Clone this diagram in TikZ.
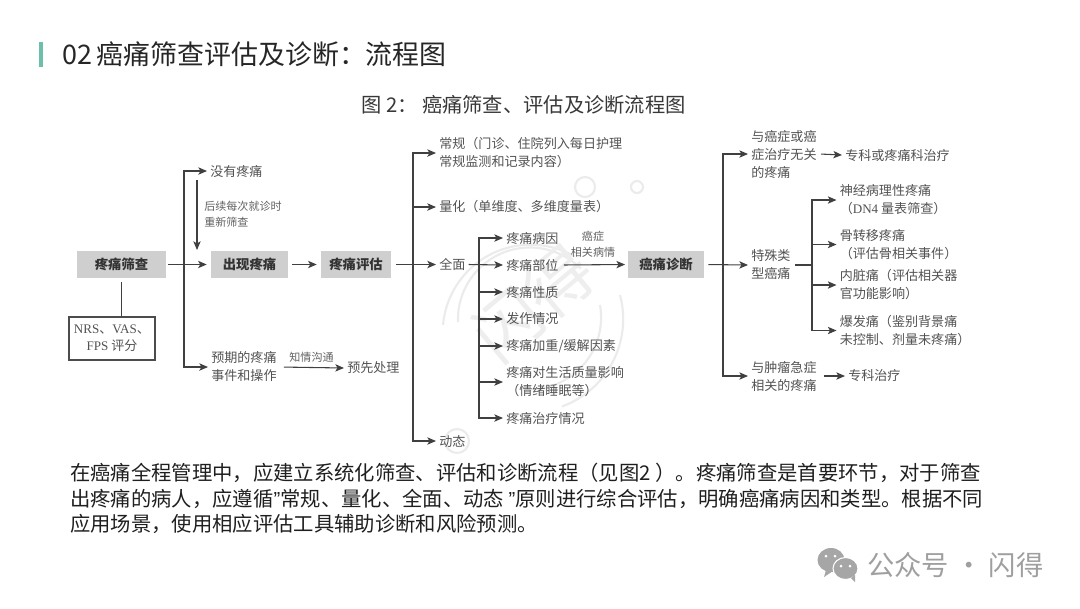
\documentclass[tikz,border=0pt]{standalone}
\usepackage{fontspec}
\setmainfont{Noto Sans CJK SC}
\newfontfamily\latinserif{Liberation Serif}
\newfontfamily\latinsans{Liberation Sans}
\definecolor{barteal}{HTML}{6CBFA8}
\usetikzlibrary{arrows.meta}

\begin{document}
\begin{tikzpicture}[
  x=0.75pt, y=-0.75pt,
  greybox/.style={rectangle, fill=gray!38, text=black!80, font=\fontsize{10pt}{13.5pt}\selectfont\bfseries, align=center, minimum height=20.25pt, inner sep=0pt},
  flowtext/.style={anchor=west, align=left, inner sep=2.25pt, text=black!68, font=\fontsize{9.8pt}{13.5pt}\selectfont},
  smalltext/.style={align=left, inner sep=0pt, text=black!62, font=\fontsize{8.3pt}{12pt}\selectfont},
  arrow/.style={-{Stealth[length=6.5pt, width=5.5pt, inset=1.6pt]}, line width=0.8pt, draw=black!75},
  plainline/.style={line width=0.8pt, draw=black!75},
  stampline/.style={line width=1.6pt, draw=gray!16},
]
\useasboundingbox (0,0) rectangle (1080,608);

% === STAMP BEHIND THE CHART ===
\draw[stampline] (443,325) arc[start angle=185, end angle=300, radius=88];
\draw[stampline] (458,322) arc[start angle=178, end angle=315, radius=72];
\draw[stampline] (620,295) arc[start angle=-15, end angle=70, radius=93];
\draw[stampline] (600,305) arc[start angle=-10, end angle=95, radius=72];
\draw[stampline] (585,187) circle (10);
\draw[stampline] (637,187) circle (6);
\draw[stampline] (457,441) circle (12);
\node[rotate=40, text=gray!13, font=\fontsize{50pt}{50pt}\selectfont] (stamp) at (533,303) {闪得};

% === HEADINGS ===
\fill[barteal] (39,42) rectangle (43,67);
\node[anchor=west, inner sep=0pt, text=black!85, font=\fontsize{20.2pt}{24pt}\selectfont] (title) at (62,54) {02\,癌痛筛查评估及诊断：流程图};
\node[anchor=west, inner sep=0pt, text=black!78, font=\fontsize{15.2pt}{18pt}\selectfont] (subtitle) at (361,105) {图 2： 癌痛筛查、评估及诊断流程图};

% === MAIN ROW ===
\node[greybox, minimum width=66.75pt] (screen) at (121.5,264.5) {疼痛筛查};
\node[greybox, minimum width=57.75pt] (appear) at (249.5,264.5) {出现疼痛};
\node[greybox, minimum width=52.5pt] (assess) at (356,264.5) {疼痛评估};
\node[greybox, minimum width=57pt] (diagnose) at (666,264.5) {癌痛诊断};

\node[draw=black!70, line width=0.9pt, align=center, inner sep=0pt, minimum width=64.5pt, minimum height=32.25pt, text=black!68, font=\fontsize{9.8pt}{13pt}\selectfont] (scales) at (112,338.5)
  {{\latinserif NRS}、{\latinserif VAS}、\\{\latinserif FPS} 评分};
\draw[plainline, shorten <=3pt] (screen.south) -- (screen.south |- scales.north);

% === LEFT BRANCH ===
\node[flowtext] (nopain) at (207,171) {没有疼痛};
\node[flowtext] (expected) at (208,367) {预期的疼痛\\事件和操作};
\node[flowtext] (advance) at (344,368) {预先处理};
\node[smalltext, anchor=west] (rescreen) at (204,214) {后续每次就诊时\\重新筛查};
\node[smalltext, anchor=center] (inform) at (311.5,357) {知情沟通};

\coordinate (leftbus) at (184,264.5);
\coordinate (downtop) at (197,180);
\coordinate (downend) at (197,250);

\draw[arrow, shorten <=1.5pt, shorten >=3pt] (screen.east) -- (appear.west);
\draw[arrow] (leftbus) |- (nopain.west);
\draw[arrow] (leftbus) |- (expected.west);
\draw[arrow] (downtop) -- (downend);
\draw[arrow, shorten <=3pt] (expected.east) -- (advance.west);

\draw[arrow, shorten <=3pt, shorten >=3pt] (appear.east) -- (assess.west);

% === ASSESSMENT BRANCH ===
\node[flowtext] (routine) at (436,153) {常规（门诊、住院列入每日护理\\常规监测和记录内容）};
\node[flowtext] (quantify) at (436,207) {量化（单维度、多维度量表）};
\node[flowtext] (overall) at (436,264.5) {全面};
\node[flowtext] (dynamic) at (436,441) {动态};

\coordinate (midbus) at (413,264.5);
\draw[arrow, shorten <=3.5pt] (assess.east) -- (overall.west);
\draw[arrow] (midbus) |- (routine.west);
\draw[arrow] (midbus) |- (quantify.west);
\draw[arrow] (midbus) |- (dynamic.west);

% === OVERALL ITEMS ===
\node[flowtext] (cause) at (503,238) {疼痛病因};
\node[flowtext] (site) at (503,265) {疼痛部位};
\node[flowtext] (nature) at (503,292) {疼痛性质};
\node[flowtext] (onset) at (503,319) {发作情况};
\node[flowtext] (factor) at (503,346) {疼痛加重/缓解因素};
\node[flowtext] (quality) at (503,382) {疼痛对生活质量影响\\（情绪睡眠等）};
\node[flowtext] (therapy) at (503,418) {疼痛治疗情况};

\coordinate (itemtop) at (479,264.5);
\draw[arrow] (overall.east) -- (site.west);
\foreach \item in {cause,quality,therapy,nature,onset,factor}
  \draw[arrow] (itemtop) |- (\item.west);

\node[smalltext, align=center, anchor=center] (related) at (593,244.5) {癌症\\相关病情};
\draw[arrow, shorten <=1.5pt, shorten >=2pt] (site.east) -- (diagnose.west);

% === DIAGNOSIS BRANCH ===
\node[flowtext] (unrelated) at (748,154) {与癌症或癌\\症治疗无关\\的疼痛};
\node[flowtext] (special) at (748,265) {特殊类\\型癌痛};
\node[flowtext] (urgent) at (748,376) {与肿瘤急症\\相关的疼痛};
\node[flowtext] (specialist) at (842,155) {专科或疼痛科治疗};
\node[flowtext] (treat) at (845,376) {专科治疗};

\coordinate (rightbus) at (723,264.5);
\draw[arrow, shorten <=3pt] (diagnose.east) -- (special.west);
\draw[arrow] (rightbus) |- (unrelated.west);
\draw[arrow] (rightbus) |- (urgent.west);
\draw[arrow, shorten <=1pt] (unrelated.east) -- (specialist.west);
\draw[arrow, shorten <=3pt] (urgent.east) -- (treat.west);

% === SPECIAL TYPES ===
\node[flowtext] (neuro) at (836.5,200) {神经病理性疼痛\\ （{\latinserif DN4} 量表筛查）};
\node[flowtext] (bone) at (836.5,244.5) {骨转移疼痛\\ （评估骨相关事件）};
\node[flowtext] (organ) at (836.5,285) {内脏痛（评估相关器\\官功能影响）};
\node[flowtext] (burst) at (836.5,330.5) {爆发痛（鉴别背景痛\\未控制、剂量未疼痛）};

\coordinate (typebus) at (812,265);
\draw[plainline, shorten <=1pt] (special.east) -- (typebus);
\foreach \item in {neuro,bone,organ,burst}
  \draw[arrow] (typebus) |- (\item.west);

% === SUMMARY TEXT ===
\node[anchor=north west, inner sep=0pt, align=left, text=black!88, font=\fontsize{15.25pt}{19.1pt}\selectfont] (summary) at (70,463)
  {在癌痛全程管理中，应建立系统化筛查、评估和诊断流程（见图2 ）。疼痛筛查是首要环节，对于筛查\\
   出疼痛的病人，应遵循{\latinsans ”}常规、量化、全面、动态 {\latinsans ”}原则进行综合评估，明确癌痛病因和类型。根据不同\\
   应用场景，使用相应评估工具辅助诊断和风险预测。};

% === ACCOUNT MARK ===
\fill[gray!70] (831,560) ellipse (13.5 and 12);
\fill[gray!70] (826,570) -- (824,577) -- (833,571) -- cycle;
\fill[gray!70, draw=white, line width=0.8pt] (845.5,568.5) ellipse (12.5 and 11);
\fill[gray!70] (851,578) -- (855,582) -- (855,575) -- cycle;
\fill[white] (826,556) circle (1.5) (835,556) circle (1.5) (841,566) circle (1.5) (850,566) circle (1.5);
\node[anchor=west, inner sep=0pt, text=gray!75, font=\fontsize{20.5pt}{24pt}\selectfont] (account) at (867,565) {公众号 · 闪得};
\end{tikzpicture}
\end{document}
